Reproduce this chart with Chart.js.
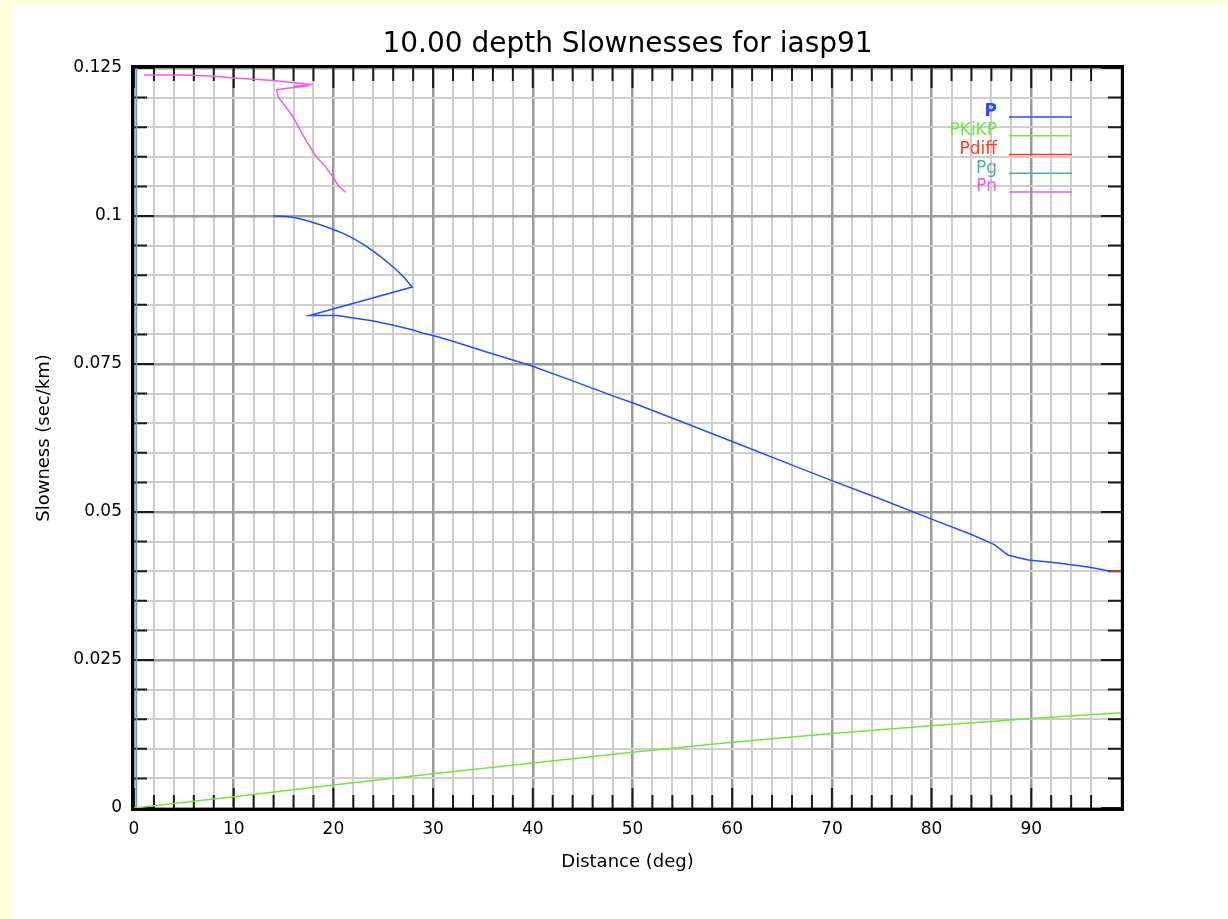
<!DOCTYPE html>
<html>
<head>
<meta charset="utf-8">
<title>10.00 depth Slownesses for iasp91</title>
<script src="https://cdn.jsdelivr.net/npm/chart.js@4.4.0/dist/chart.umd.min.js"></script>
<style>
  html, body { margin: 0; padding: 0; background: #ffffdc; }
  #panel { position: absolute; left: 11px; top: 5px; width: 1215px; height: 914px; background: #ffffff; }
</style>
</head>
<body>
<div id="panel"><canvas id="slowChart"></canvas></div>
<script>
// phase curves: distance (deg) / slowness (sec/km)
const pDist = [14.0, 15.2, 16.2, 17.4, 18.5, 19.4, 20.2, 21.2, 22.2, 23.2, 24.2, 25.2, 26.2, 27.1, 27.9,
  17.6, 20.4, 21.5, 23.9, 25.9, 27.9, 29.0, 30.0, 31.9,
  35.2, 39.7, 43.6, 47.9, 50.4, 55, 60, 65, 70, 75, 80, 84, 86.3, 87.2, 87.7, 89.7, 92.7, 95.7, 98.0];
const pSlow = [0.1000, 0.0999, 0.0997, 0.0992, 0.0986, 0.0981, 0.0976, 0.0969, 0.0960, 0.0950, 0.0938, 0.0925,
  0.0911, 0.0896, 0.0880,
  0.0832, 0.0832, 0.0829, 0.0823, 0.0816, 0.0808, 0.0802, 0.0798, 0.0789,
  0.0771, 0.0748, 0.0724, 0.0697, 0.0682, 0.0652, 0.0619, 0.0586, 0.0553,
  0.0521, 0.0488, 0.0462, 0.0445, 0.0433, 0.0427, 0.0419, 0.0414, 0.0407, 0.0400];

const pkikpDist = [0, 10, 20, 30, 40, 50, 60, 70, 80, 90, 99];
const pkikpSlow = [0, 0.0019, 0.0039, 0.0058, 0.0076, 0.0094, 0.0111, 0.0126, 0.0139, 0.0151, 0.0161];

const pdiffDist = [98.0, 99.5];
const pdiffSlow = [0.0400, 0.0400];

const pgDist = [0.25, 0.25];
const pgSlow = [0, 0.125];

const pnDist = [1.0, 5, 8, 10, 12, 14, 16, 17.9, 16, 17.5, 15, 14.3, 14.5, 15.2, 15.9, 17.0, 18.2, 19.2, 20.0, 20.5, 21.2];
const pnSlow = [0.1238, 0.1238, 0.1236, 0.1233, 0.1231, 0.1229, 0.1225, 0.1222, 0.1219, 0.1220, 0.1215, 0.1213,
  0.1200, 0.1185, 0.1169, 0.1135, 0.1102, 0.1083, 0.1065, 0.1051, 0.1040];

const phaseNames = ['P', 'PKiKP', 'Pdiff', 'Pg', 'Pn'];
const phaseColors = ['#1f4fff', '#6ee83c', '#ff3a1e', '#55aaaa', '#ee5aee'];
const phaseDist = [pDist, pkikpDist, pdiffDist, pgDist, pnDist];
const phaseSlow = [pSlow, pkikpSlow, pdiffSlow, pgSlow, pnSlow];

const xTicksLabelled = [0, 10, 20, 30, 40, 50, 60, 70, 80, 90];
const yTicksLabelled = [0, 0.025, 0.05, 0.075, 0.1, 0.125];

const chartTitle = '10.00 depth Slownesses for iasp91';

function toPoints(xs, ys) {
  return xs.map((d, i) => ({ x: d, y: ys[i] }));
}

const datasets = phaseNames.map((name, i) => ({
  label: name,
  data: toPoints(phaseDist[i], phaseSlow[i]),
  borderColor: phaseColors[i],
  backgroundColor: phaseColors[i],
  borderWidth: 1.5,
  showLine: true,
  pointRadius: 0,
  tension: 0
}));

const isMajorX = v => Math.abs(v % 10) < 1e-6;
const isMajorY = v => Math.round(v * 1000) % 25 === 0;

// inward tick marks, thick frame, title over the plot box, legend with lines on the right
const framePlugin = {
  id: 'framePlugin',
  beforeDatasetsDraw(chart) {
    const { ctx, chartArea: a, scales: { x, y } } = chart;
    ctx.save();
    ctx.strokeStyle = '#1a1a1a';
    ctx.lineWidth = 2;
    ctx.beginPath();
    x.ticks.forEach(t => {
      if (t.value >= x.max) return;
      const px = x.getPixelForValue(t.value);
      const len = isMajorX(t.value) ? 20 : 13;
      ctx.moveTo(px, a.bottom); ctx.lineTo(px, a.bottom - len);
      ctx.moveTo(px, a.top); ctx.lineTo(px, a.top + len);
    });
    y.ticks.forEach(t => {
      const py = y.getPixelForValue(t.value);
      const len = isMajorY(t.value) ? 20 : 13;
      ctx.moveTo(a.left, py); ctx.lineTo(a.left + len, py);
      ctx.moveTo(a.right, py); ctx.lineTo(a.right - len, py);
    });
    ctx.stroke();
    ctx.restore();
  },
  afterDatasetsDraw(chart) {
    const { ctx, chartArea: a } = chart;
    ctx.save();
    ctx.strokeStyle = '#000';
    ctx.lineWidth = 3;
    ctx.strokeRect(a.left - 1.5, a.top - 1.5, a.right - a.left + 3, a.bottom - a.top + 3);

    ctx.fillStyle = '#000';
    ctx.font = '28px "DejaVu Sans"';
    ctx.textAlign = 'center';
    ctx.textBaseline = 'middle';
    ctx.fillText(chartTitle, (a.left + a.right) / 2, a.top - 23);

    chart.data.datasets.forEach((ds, i) => {
      const ly = a.top + 49 + i * 18.75;
      ctx.strokeStyle = ds.borderColor;
      ctx.lineWidth = 1.5;
      ctx.beginPath();
      ctx.moveTo(a.right - 112, ly);
      ctx.lineTo(a.right - 49, ly);
      ctx.stroke();
      ctx.fillStyle = ds.borderColor;
      ctx.font = (i === 0 ? 'bold ' : '') + '17px "DejaVu Sans"';
      ctx.textAlign = 'right';
      ctx.textBaseline = 'middle';
      ctx.fillText(ds.label, a.right - 124, ly - 5);
    });
    ctx.restore();
  }
};

const ctx = document.getElementById('slowChart').getContext('2d');
const slowChart = new Chart(ctx, {
  type: 'scatter',
  data: { datasets: datasets },
  options: {
    responsive: true,
    maintainAspectRatio: false,
    animation: false,
    layout: { padding: { left: 0, top: 63, right: 105, bottom: 0 } },
    plugins: {
      legend: { display: false },
      tooltip: { enabled: false },
      title: { display: false }
    },
    scales: {
      x: {
        type: 'linear',
        min: 0,
        max: 99,
        afterFit(scale) { scale.height = 111; },
        border: { display: false },
        grid: {
          drawTicks: false,
          color: c => isMajorX(c.tick.value) ? '#9a9a9a' : '#cdcdcd',
          lineWidth: c => isMajorX(c.tick.value) ? 2.5 : 2
        },
        ticks: {
          stepSize: 2,
          padding: 11,
          color: '#000',
          maxRotation: 0,
          autoSkip: false,
          font: { family: 'DejaVu Sans', size: 17 },
          callback: v => xTicksLabelled.includes(v) ? String(v) : ''
        },
        title: {
          display: true,
          text: 'Distance (deg)',
          color: '#000',
          font: { family: 'DejaVu Sans', size: 18 },
          padding: { top: 4, bottom: 46 }
        }
      },
      y: {
        type: 'linear',
        min: 0,
        max: 0.125,
        afterFit(scale) { scale.width = 123; },
        border: { display: false },
        grid: {
          drawTicks: false,
          color: c => isMajorY(c.tick.value) ? '#9a9a9a' : '#cdcdcd',
          lineWidth: c => isMajorY(c.tick.value) ? 2.5 : 2
        },
        ticks: {
          stepSize: 0.005,
          padding: 12,
          color: '#000',
          autoSkip: false,
          font: { family: 'DejaVu Sans', size: 17 },
          callback: v => {
            const r = Math.round(v * 1000) / 1000;
            return yTicksLabelled.includes(r) ? String(r) : '';
          }
        },
        title: {
          display: true,
          text: 'Slowness (sec/km)',
          color: '#000',
          font: { family: 'DejaVu Sans', size: 18 },
          padding: { top: 23, bottom: 4 }
        }
      }
    }
  },
  plugins: [framePlugin]
});
</script>
</body>
</html>
